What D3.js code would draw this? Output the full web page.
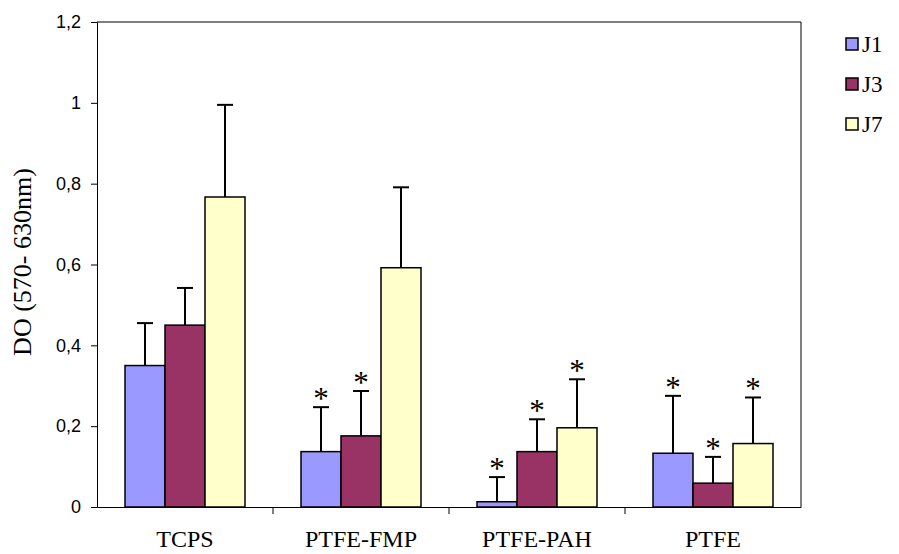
<!DOCTYPE html>
<html><head><meta charset="utf-8">
<script src="https://cdn.jsdelivr.net/npm/d3@7"></script>
<style>body{margin:0;background:#fff}svg{display:block}</style>
</head><body>
<script>
const categories = ["TCPS", "PTFE-FMP", "PTFE-PAH", "PTFE"];
const seriesNames = ["J1", "J3", "J7"];
const J1 = [0.35, 0.137, 0.013, 0.133];
const J3 = [0.45, 0.176, 0.137, 0.059];
const J7 = [0.767, 0.592, 0.196, 0.157];
const J1err = [0.105, 0.110, 0.061, 0.142];
const J3err = [0.092, 0.111, 0.080, 0.065];
const J7err = [0.228, 0.199, 0.120, 0.114];
const J1star = [false, true, true, true];
const J3star = [false, true, true, true];
const J7star = [false, false, true, true];
const yTicks = [0, 0.2, 0.4, 0.6, 0.8, 1, 1.2];
const colors = ["#9999FF", "#993366", "#FFFFCC"];

const values = [J1, J3, J7], errs = [J1err, J3err, J7err], stars = [J1star, J3star, J7star];
const W = 899, H = 554;
const m = {left: 97, right: 98, top: 22, bottom: 47};
const serif = "Liberation Serif, Times New Roman, serif";
const svg = d3.select("body").append("svg").attr("width", W).attr("height", H);

const x = d3.scaleBand().domain(categories).range([m.left, W - m.right]).paddingInner(0).paddingOuter(0);
const inner = d3.scaleBand().domain(seriesNames).range([0, x.bandwidth()]).paddingOuter(0.7).paddingInner(0);
const y = d3.scaleLinear().domain([0, 1.2]).range([H - m.bottom, m.top]);

// plot frame (top and right)
svg.append("path").attr("d", `M${m.left},${m.top}H${W - m.right}V${H - m.bottom}`)
  .attr("fill", "none").attr("stroke", "#000").attr("stroke-width", 1);

const fmt = d => d3.format("")(d).replace(".", ",");
const yAxis = svg.append("g").attr("transform", `translate(${m.left},0)`)
  .call(d3.axisLeft(y).tickValues(yTicks).tickSize(6).tickPadding(10).tickFormat(fmt));
yAxis.attr("font-size", null).attr("font-family", null);
yAxis.selectAll("text").style("font-family", "Liberation Sans, Arial, sans-serif").style("font-size", "18px").attr("fill", "#000");
yAxis.selectAll("line,path").attr("stroke", "#000");

const xAxis = svg.append("g").attr("transform", `translate(0,${H - m.bottom})`)
  .call(d3.axisBottom(x).tickSize(0).tickPadding(23));
xAxis.attr("font-size", null).attr("font-family", null);
xAxis.selectAll("text").style("font-family", serif).style("font-size", "24px").attr("fill", "#000");
xAxis.selectAll("path").attr("stroke", "#000");
// category separator ticks
xAxis.selectAll(".sep").data(categories.slice(1)).enter().append("line")
  .attr("x1", d => x(d)).attr("x2", d => x(d)).attr("y1", 0).attr("y2", 7).attr("stroke", "#000");

seriesNames.forEach((s, si) => {
  const g = svg.append("g");
  categories.forEach((c, ci) => {
    const bx = x(c) + inner(s), bw = inner.bandwidth();
    const v = values[si][ci], e = errs[si][ci];
    const cx = bx + bw / 2;
    g.append("line").attr("x1", cx).attr("x2", cx).attr("y1", y(v)).attr("y2", y(v + e))
      .attr("stroke", "#000").attr("stroke-width", 2);
    g.append("line").attr("x1", cx - 8).attr("x2", cx + 8).attr("y1", y(v + e)).attr("y2", y(v + e))
      .attr("stroke", "#000").attr("stroke-width", 2);
    g.append("rect").attr("x", bx).attr("y", y(v)).attr("width", bw).attr("height", y(0) - y(v))
      .attr("fill", colors[si]).attr("stroke", "#000").attr("stroke-width", 1.5);
    if (stars[si][ci]) {
      g.append("text").attr("x", cx).attr("y", y(v + e) + 2).attr("text-anchor", "middle")
        .style("font-family", serif).style("font-size", "31px").text("*");
    }
  });
});

// y label
svg.append("text").attr("transform", "translate(31,262) rotate(-90)").attr("text-anchor", "middle")
  .style("font-family", serif).style("font-size", "26px").text("DO (570- 630nm)");

// legend
const lg = svg.append("g");
seriesNames.forEach((s, i) => {
  const yy = 44 + i * 40;
  lg.append("rect").attr("x", 846).attr("y", yy - 6).attr("width", 12).attr("height", 12)
    .attr("fill", colors[i]).attr("stroke", "#000").attr("stroke-width", 1.5);
  lg.append("text").attr("x", 862).attr("y", yy + 8).style("font-family", serif)
    .style("font-size", "23px").text(s);
});
</script>
</body></html>
